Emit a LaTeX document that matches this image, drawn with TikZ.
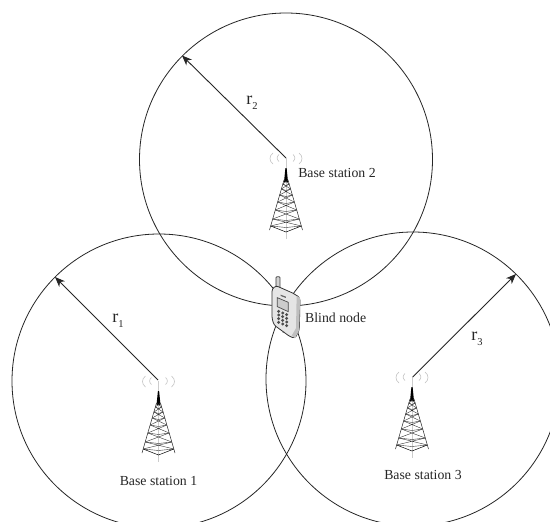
\documentclass[tikz,border=0pt]{standalone}
\usepackage{fontspec}
\setmainfont{Liberation Serif}
\usetikzlibrary{arrows.meta}
\newcommand{\lowsub}[1]{\raisebox{-.3em}{\fontsize{10.5}{12}\selectfont #1}}
\tikzset{
  coverage/.style={draw=black!85, line width=.8pt},
  radius arrow/.style={black!85, line width=.9pt, -{Stealth[length=10pt,width=8pt,inset=3pt]}},
  station label/.style={font=\fontsize{13.8}{16}\selectfont, text=black!85, inner sep=0pt},
  radius label/.style={font=\fontsize{18}{20}\selectfont, text=black!85, inner sep=0pt},
  tower/.pic={
    \draw[gray!40, line width=1pt] (0,0) -- (0,81);
    \draw[gray!50, line width=.55pt]
      (-7,-3.5) .. controls (-9.5,-1.5) and (-9.5,1.5) .. (-7,3.5)
      (7,-3.5) .. controls (9.5,-1.5) and (9.5,1.5) .. (7,3.5)
      (-13,-5) .. controls (-17,-2) and (-17,3) .. (-13,6)
      (13,-5) .. controls (17,-2) and (17,3) .. (13,6);
    \fill[black] (-.6,10) -- (.6,10) -- (2,24) -- (-2,24) -- cycle;
    \draw[black!85, line width=.5pt] (-2,22) -- (-16.5,72) (2,22) -- (16.5,72);
    \foreach \ya/\yb in {22/26,26/31,31/37,37/44,44/52,52/61,61/68}{
      \pgfmathsetmacro{\ha}{2+(\ya-22)*.29}
      \pgfmathsetmacro{\hb}{2+(\yb-22)*.29}
      \draw[black!80, line width=.4pt] (-\ha,\ya) -- (\hb,\yb) (\ha,\ya) -- (-\hb,\yb);
      \draw[black!80, line width=.4pt] (-\hb,\yb) -- (0,\yb+1.5) -- (\hb,\yb);
    }
    \draw[black, line width=.5pt] (-15.3,68) -- (0,74) -- (15.3,68);
  },
}
\begin{document}
\begin{tikzpicture}[x=1pt,y=-1pt]
  \clip (0,0) rectangle (550,522);
  \fill[white] (0,0) rectangle (550,522);
  % coverage areas
  \draw[coverage] (159,381) circle[radius=147];
  \draw[coverage] (286,159.5) circle[radius=146.5];
  \draw[coverage] (413,379) circle[radius=147];
  % towers
  \pic at (158.5,381) {tower};
  \pic at (286,158) {tower};
  \pic at (412,377) {tower};
  % radii
  \coordinate (s1) at (158,380);
  \coordinate (s2) at (286,158);
  \coordinate (s3) at (412.7,377);
  \coordinate (e1) at (55,277);
  \coordinate (e2) at (182,55.5);
  \coordinate (e3) at (516,274);
  \draw[radius arrow] (s1) -- (e1);
  \draw[radius arrow] (s2) -- (e2);
  \draw[radius arrow] (s3) -- (e3);
  \node[radius label] (r1) at (118,321) {r\lowsub{1}};
  \node[radius label] (r2) at (252,103) {r\lowsub{2}};
  \node[radius label] (r3) at (477,339) {r\lowsub{3}};
  % blind node
  \begin{scope}[shift={(250,270)},x=.3333pt,y=-.3333pt]
    \draw[black!75, fill=gray!35, line width=.8pt, rounded corners=1pt] (78,50) -- (78,20) -- (90,20) -- (90,56) -- cycle;
    \draw[black!80, fill=gray!20, line width=.8pt, rounded corners=2.5pt]
      (66,57) -- (78,47) -- (130,70) -- (150,83) -- (148,180) -- (135,205) -- (120,200) -- (72,165) -- (66,145) -- cycle;
    \fill[gray!50] (135,205) -- (148,180) -- (150,83) -- (140,78) -- (138,175) -- (125,197) -- cycle;
    \draw[black!70, fill=gray!40, line width=.7pt] (82,83) -- (115,97) -- (115,125) -- (82,110) -- cycle;
    \fill[black!60] (92,74) -- (108,80) -- (108,84) -- (92,78) -- cycle;
    \foreach \ky in {0,1,2,3}{
      \foreach \kx in {0,1,2}{
        \fill[black!70] (86+\kx*12,124+\ky*11+\kx*5) circle[radius=4.8];
      }
    }
    \fill[black!60] (100,186) circle[radius=3];
  \end{scope}
  % labels
  \node[station label] (bs1) at (158.5,481) {Base station 1};
  \node[station label] (bs2) at (337,173) {Base station 2};
  \node[station label] (bs3) at (423,475) {Base station 3};
  \node[station label, anchor=west] (blind) at (305,318) {Blind node};
\end{tikzpicture}
\end{document}
